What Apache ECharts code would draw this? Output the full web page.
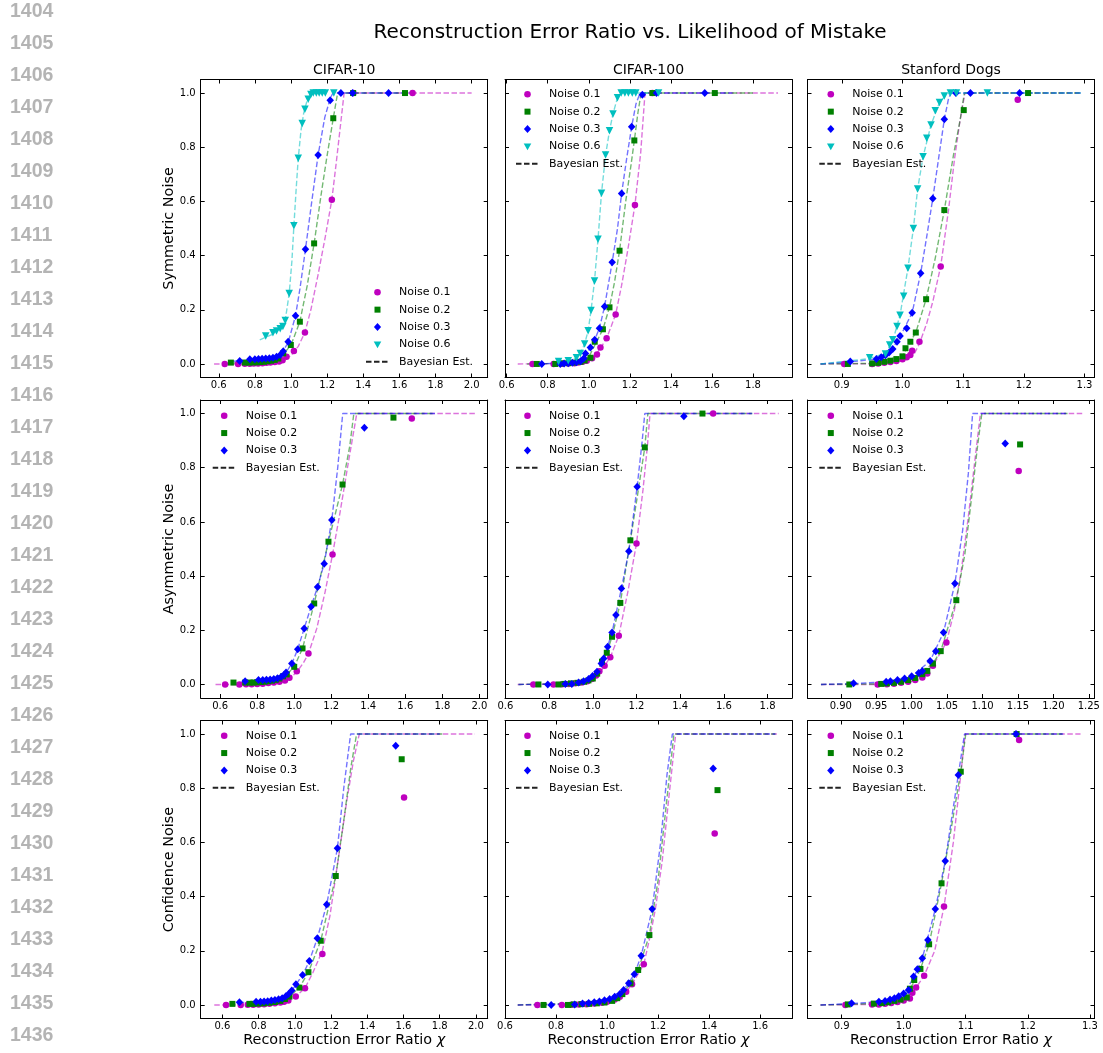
<!DOCTYPE html>
<html><head><meta charset="utf-8">
<script src="https://cdn.jsdelivr.net/npm/echarts@6/dist/echarts.min.js"></script>
<style>html,body{margin:0;padding:0;background:#fff}#c{width:1103px;height:1053px}</style>
</head><body><div id="c"></div><script>
// ---------- categories / labels ----------
const mainTitle = 'Reconstruction Error Ratio vs. Likelihood of Mistake';
const datasets = ['CIFAR-10', 'CIFAR-100', 'Stanford Dogs'];
const noiseTypes = ['Symmetric Noise', 'Asymmetric Noise', 'Confidence Noise'];
const noiseNames = ['Noise 0.1', 'Noise 0.2', 'Noise 0.3', 'Noise 0.6'];
const fitName = 'Bayesian Est.';
const xAxisName = 'Reconstruction Error Ratio ';
const xAxisSymbol = 'χ';
const lineNumbers = ['1404','1405','1406','1407','1408','1409','1410','1411','1412','1413','1414','1415','1416','1417','1418','1419','1420','1421','1422','1423','1424','1425','1426','1427','1428','1429','1430','1431','1432','1433','1434','1435','1436'];

// ---------- tick labels ----------
const yTicks = [0, 0.2, 0.4, 0.6, 0.8, 1.0];
const xTicksWide = [0.6, 0.8, 1.0, 1.2, 1.4, 1.6, 1.8, 2.0];
const xTicksMid = [0.6, 0.8, 1.0, 1.2, 1.4, 1.6, 1.8];
const xTicksShort = [0.6, 0.8, 1.0, 1.2, 1.4, 1.6];
const xTicksDogs = [0.9, 1.0, 1.1, 1.2, 1.3];
const xTicksDogsFine = [0.90, 0.95, 1.00, 1.05, 1.10, 1.15, 1.20, 1.25];

// ---------- Symmetric / CIFAR-10 ----------
const symC10_n1 = [[0.633,0],[0.707,0],[0.744,0.001],[0.772,0.001],[0.794,0.002],[0.818,0.002],[0.842,0.003],[0.864,0.004],[0.886,0.005],[0.910,0.007],[0.934,0.009],[0.953,0.014],[0.975,0.027],[1.016,0.048],[1.077,0.116],[1.226,0.606],[1.345,1.0],[1.673,1.0]];
const symC10_n2 = [[0.667,0.005],[0.744,0.005],[0.77,0.005],[0.79,0.006],[0.81,0.006],[0.83,0.007],[0.85,0.008],[0.87,0.010],[0.89,0.012],[0.91,0.015],[0.93,0.020],[0.957,0.039],[0.999,0.070],[1.049,0.156],[1.128,0.445],[1.234,0.907],[1.344,1.0],[1.631,1.0]];
const symC10_n3 = [[0.716,0.011],[0.772,0.017],[0.80,0.017],[0.82,0.018],[0.84,0.019],[0.86,0.020],[0.88,0.021],[0.90,0.023],[0.92,0.027],[0.94,0.033],[0.957,0.047],[0.984,0.082],[1.025,0.178],[1.080,0.423],[1.150,0.771],[1.217,0.973],[1.276,1.0],[1.341,1.0],[1.540,1.0]];
const symC10_n6 = [[0.860,0.103],[0.900,0.115],[0.920,0.122],[0.940,0.130],[0.955,0.138],[0.968,0.160],[0.990,0.260],[1.016,0.510],[1.040,0.759],[1.062,0.888],[1.077,0.940],[1.095,0.977],[1.110,0.995],[1.123,1.0],[1.140,1.0],[1.156,1.0],[1.173,1.0],[1.190,1.0],[1.237,1.0]];
const symC10_f1 = [[0.574,0],[0.7,0],[0.8,0.001],[0.9,0.005],[0.95,0.012],[1.0,0.03],[1.04,0.065],[1.077,0.116],[1.11,0.2],[1.15,0.33],[1.19,0.47],[1.226,0.606],[1.25,0.74],[1.272,0.87],[1.294,1.0],[2.0,1.0]];
const symC10_f2 = [[0.64,0.003],[0.75,0.005],[0.85,0.008],[0.9,0.013],[0.95,0.03],[1.0,0.07],[1.049,0.156],[1.09,0.29],[1.128,0.445],[1.17,0.64],[1.2,0.77],[1.234,0.907],[1.258,1.0],[1.7,1.0]];
const symC10_f3 = [[0.68,0.01],[0.8,0.016],[0.9,0.023],[0.95,0.042],[0.984,0.078],[1.025,0.178],[1.05,0.28],[1.08,0.423],[1.115,0.6],[1.15,0.771],[1.187,0.91],[1.217,0.98],[1.232,1.0],[1.68,1.0]];
const symC10_f6 = [[0.827,0.089],[0.9,0.11],[0.95,0.135],[0.97,0.17],[0.99,0.26],[1.005,0.38],[1.016,0.51],[1.028,0.64],[1.04,0.759],[1.055,0.86],[1.07,0.925],[1.09,0.975],[1.11,0.998],[1.12,1.0],[1.2,1.0]];

// ---------- Symmetric / CIFAR-100 ----------
const symC100_n1 = [[0.726,0],[0.829,0],[0.87,0.001],[0.90,0.002],[0.93,0.003],[0.95,0.005],[0.97,0.008],[0.99,0.012],[1.016,0.021],[1.04,0.035],[1.057,0.061],[1.087,0.095],[1.131,0.183],[1.225,0.587],[1.31,1.0]];
const symC100_n2 = [[0.747,0],[0.837,0],[0.87,0.002],[0.90,0.003],[0.93,0.005],[0.96,0.008],[0.98,0.013],[1.008,0.023],[1.029,0.082],[1.069,0.128],[1.101,0.209],[1.150,0.418],[1.222,0.825],[1.31,1.0],[1.614,1.0]];
const symC100_n3 = [[0.771,0],[0.861,0],[0.88,0.002],[0.90,0.003],[0.92,0.004],[0.94,0.006],[0.96,0.010],[0.975,0.020],[0.984,0.039],[1.008,0.061],[1.029,0.089],[1.052,0.132],[1.077,0.212],[1.114,0.375],[1.160,0.629],[1.209,0.876],[1.261,0.994],[1.33,1.0],[1.565,1.0]];
const symC100_n6 = [[0.853,0.009],[0.90,0.012],[0.94,0.023],[0.959,0.039],[0.98,0.074],[0.997,0.123],[1.011,0.197],[1.028,0.306],[1.045,0.46],[1.062,0.63],[1.082,0.771],[1.101,0.861],[1.118,0.923],[1.14,0.983],[1.158,1.0],[1.176,1.0],[1.193,1.0],[1.212,1.0],[1.229,1.0],[1.34,1.0]];
const symC100_f1 = [[0.654,0],[0.8,0.001],[0.9,0.004],[0.95,0.008],[1.0,0.016],[1.03,0.03],[1.057,0.058],[1.087,0.095],[1.11,0.14],[1.131,0.183],[1.16,0.29],[1.19,0.42],[1.225,0.587],[1.253,0.78],[1.274,1.0],[1.922,1.0]];
const symC100_f2 = [[0.7,0],[0.85,0.002],[0.95,0.009],[1.0,0.025],[1.03,0.07],[1.069,0.128],[1.101,0.209],[1.125,0.3],[1.15,0.418],[1.18,0.6],[1.205,0.73],[1.222,0.825],[1.24,0.93],[1.255,1.0],[1.8,1.0]];
const symC100_f3 = [[0.75,0],[0.9,0.004],[0.95,0.01],[0.984,0.035],[1.008,0.06],[1.029,0.089],[1.052,0.132],[1.077,0.212],[1.114,0.375],[1.14,0.5],[1.16,0.629],[1.185,0.76],[1.209,0.876],[1.23,0.96],[1.25,1.0],[1.7,1.0]];
const symC100_f6 = [[0.85,0.008],[0.94,0.02],[0.96,0.04],[0.98,0.074],[0.997,0.123],[1.011,0.197],[1.028,0.306],[1.045,0.46],[1.062,0.63],[1.082,0.771],[1.101,0.861],[1.118,0.923],[1.14,0.983],[1.16,1.0],[1.34,1.0]];

// ---------- Symmetric / Stanford Dogs ----------
const symDog_n1 = [[0.904,0],[0.95,0],[0.96,0.002],[0.97,0.004],[0.98,0.007],[0.99,0.011],[1.0,0.017],[1.007,0.025],[1.013,0.033],[1.016,0.049],[1.028,0.082],[1.063,0.36],[1.19,0.975]];
const symDog_n2 = [[0.91,0],[0.95,0.002],[0.96,0.004],[0.97,0.008],[0.98,0.012],[0.99,0.018],[1.0,0.028],[1.005,0.058],[1.013,0.082],[1.022,0.116],[1.039,0.239],[1.069,0.568],[1.101,0.937],[1.207,1.0]];
const symDog_n3 = [[0.914,0.009],[0.957,0.018],[0.965,0.025],[0.972,0.032],[0.978,0.042],[0.984,0.055],[0.991,0.082],[0.996,0.103],[1.007,0.132],[1.016,0.189],[1.03,0.335],[1.05,0.611],[1.069,0.903],[1.088,1.0],[1.112,1.0],[1.193,1.0]];
const symDog_n6 = [[0.946,0.023],[0.972,0.037],[0.979,0.07],[0.984,0.089],[0.991,0.138],[0.996,0.18],[1.002,0.25],[1.009,0.353],[1.018,0.5],[1.025,0.646],[1.034,0.765],[1.04,0.833],[1.047,0.882],[1.054,0.935],[1.061,0.965],[1.069,0.989],[1.079,1.0],[1.089,1.0],[1.14,1.0]];
const symDog_f1 = [[0.865,0],[0.95,0.001],[1.0,0.014],[1.02,0.04],[1.028,0.075],[1.04,0.15],[1.05,0.23],[1.063,0.36],[1.076,0.57],[1.086,0.76],[1.095,0.9],[1.103,1.0],[1.295,1.0]];
const symDog_f2 = [[0.865,0],[0.95,0.002],[1.0,0.03],[1.01,0.07],[1.022,0.116],[1.039,0.239],[1.054,0.39],[1.069,0.568],[1.084,0.77],[1.095,0.9],[1.102,1.0],[1.295,1.0]];
const symDog_f3 = [[0.865,0],[0.914,0.008],[0.957,0.018],[0.98,0.045],[0.996,0.1],[1.016,0.189],[1.03,0.335],[1.04,0.47],[1.05,0.611],[1.06,0.765],[1.069,0.903],[1.076,0.98],[1.08,1.0],[1.295,1.0]];
const symDog_f6 = [[0.865,0],[0.946,0.02],[0.972,0.04],[0.984,0.085],[0.996,0.18],[1.009,0.353],[1.018,0.5],[1.025,0.646],[1.034,0.765],[1.047,0.882],[1.061,0.965],[1.073,0.996],[1.08,1.0],[1.295,1.0]];

// ---------- Asymmetric / CIFAR-10 ----------
const asymC10_n1 = [[0.627,0],[0.704,0],[0.74,0.001],[0.77,0.001],[0.8,0.002],[0.83,0.003],[0.86,0.005],[0.89,0.007],[0.92,0.01],[0.95,0.015],[0.974,0.025],[1.014,0.049],[1.077,0.114],[1.207,0.48],[1.635,0.982]];
const asymC10_n2 = [[0.672,0.007],[0.735,0.007],[0.76,0.007],[0.78,0.007],[0.8,0.008],[0.82,0.009],[0.84,0.01],[0.86,0.012],[0.88,0.014],[0.9,0.017],[0.92,0.022],[0.94,0.03],[0.96,0.037],[1.0,0.065],[1.045,0.133],[1.108,0.299],[1.185,0.527],[1.261,0.738],[1.536,0.985]];
const asymC10_n3 = [[0.735,0.012],[0.807,0.016],[0.83,0.016],[0.85,0.017],[0.87,0.018],[0.89,0.02],[0.91,0.023],[0.93,0.028],[0.945,0.035],[0.956,0.044],[0.987,0.077],[1.019,0.13],[1.054,0.207],[1.091,0.287],[1.126,0.36],[1.162,0.446],[1.203,0.607],[1.379,0.948]];
const asymC10_f1 = [[0.575,0],[0.7,0],[0.8,0.001],[0.9,0.007],[0.97,0.02],[1.014,0.045],[1.05,0.08],[1.077,0.114],[1.122,0.207],[1.167,0.342],[1.207,0.48],[1.248,0.637],[1.293,0.822],[1.338,1.0],[1.977,1.0]];
const asymC10_f2 = [[0.67,0.005],[0.8,0.008],[0.9,0.015],[0.96,0.037],[1.0,0.065],[1.045,0.133],[1.108,0.299],[1.185,0.527],[1.261,0.738],[1.3,0.88],[1.322,1.0],[1.76,1.0]];
const asymC10_f3 = [[0.72,0.012],[0.8,0.015],[0.9,0.02],[0.956,0.044],[0.987,0.077],[1.019,0.13],[1.054,0.207],[1.091,0.287],[1.126,0.36],[1.162,0.446],[1.203,0.607],[1.235,0.8],[1.262,1.0],[1.76,1.0]];

// ---------- Asymmetric / CIFAR-100 ----------
const asymC100_n1 = [[0.728,0],[0.82,0],[0.86,0.001],[0.89,0.002],[0.92,0.004],[0.95,0.007],[0.975,0.012],[0.996,0.02],[1.015,0.033],[1.03,0.049],[1.054,0.069],[1.08,0.1],[1.119,0.18],[1.2,0.52],[1.551,1.0]];
const asymC100_n2 = [[0.751,0],[0.843,0],[0.87,0.002],[0.9,0.004],[0.93,0.006],[0.96,0.01],[0.98,0.015],[1.0,0.022],[1.02,0.04],[1.042,0.084],[1.064,0.117],[1.088,0.176],[1.126,0.301],[1.172,0.532],[1.238,0.875],[1.502,1.0]];
const asymC100_n3 = [[0.794,0],[0.874,0.002],[0.904,0.002],[0.935,0.007],[0.958,0.012],[0.981,0.02],[0.999,0.031],[1.019,0.047],[1.039,0.077],[1.05,0.096],[1.068,0.139],[1.088,0.192],[1.106,0.256],[1.131,0.354],[1.165,0.492],[1.203,0.73],[1.417,0.99]];
const asymC100_f1 = [[0.656,0],[0.85,0.001],[0.95,0.006],[1.0,0.016],[1.03,0.04],[1.054,0.069],[1.08,0.1],[1.119,0.18],[1.16,0.34],[1.2,0.52],[1.23,0.72],[1.25,0.88],[1.262,1.0],[1.851,1.0]];
const asymC100_f2 = [[0.66,0],[0.9,0.004],[0.98,0.015],[1.02,0.045],[1.042,0.084],[1.064,0.117],[1.088,0.176],[1.126,0.301],[1.172,0.532],[1.205,0.7],[1.238,0.875],[1.252,1.0],[1.73,1.0]];
const asymC100_f3 = [[0.66,0],[0.9,0.002],[0.98,0.02],[1.019,0.047],[1.05,0.096],[1.088,0.192],[1.131,0.354],[1.165,0.492],[1.203,0.73],[1.225,0.89],[1.238,1.0],[1.73,1.0]];

// ---------- Asymmetric / Stanford Dogs ----------
const asymDog_n1 = [[0.952,0],[0.965,0.001],[0.975,0.003],[0.985,0.006],[0.995,0.01],[1.005,0.016],[1.015,0.026],[1.022,0.04],[1.03,0.069],[1.049,0.155],[1.151,0.788]];
const asymDog_n2 = [[0.912,0],[0.957,0.002],[0.965,0.004],[0.975,0.006],[0.985,0.01],[0.995,0.016],[1.005,0.024],[1.015,0.038],[1.022,0.05],[1.03,0.077],[1.041,0.123],[1.063,0.311],[1.153,0.886]];
const asymDog_n3 = [[0.918,0.004],[0.964,0.01],[0.97,0.012],[0.98,0.016],[0.99,0.022],[1.0,0.03],[1.01,0.042],[1.015,0.05],[1.026,0.087],[1.034,0.123],[1.045,0.192],[1.061,0.373],[1.132,0.889]];
const asymDog_f1 = [[0.872,0],[0.95,0],[1.0,0.012],[1.03,0.069],[1.049,0.155],[1.06,0.27],[1.07,0.42],[1.08,0.62],[1.088,0.8],[1.097,1.0],[1.241,1.0]];
const asymDog_f2 = [[0.872,0],[0.957,0.002],[1.0,0.02],[1.03,0.077],[1.041,0.123],[1.063,0.311],[1.075,0.48],[1.085,0.7],[1.093,0.88],[1.099,1.0],[1.22,1.0]];
const asymDog_f3 = [[0.872,0],[0.918,0.003],[0.964,0.01],[1.0,0.03],[1.026,0.087],[1.045,0.192],[1.061,0.373],[1.072,0.57],[1.08,0.78],[1.086,1.0],[1.22,1.0]];

// ---------- Confidence / CIFAR-10 ----------
const confC10_n1 = [[0.62,0],[0.701,0],[0.74,0.001],[0.77,0.001],[0.8,0.002],[0.83,0.003],[0.86,0.004],[0.89,0.006],[0.92,0.009],[0.94,0.012],[0.964,0.016],[1.005,0.031],[1.056,0.062],[1.152,0.188],[1.603,0.766]];
const confC10_n2 = [[0.655,0.004],[0.749,0.004],[0.77,0.004],[0.8,0.005],[0.83,0.006],[0.86,0.008],[0.89,0.011],[0.92,0.015],[0.945,0.022],[0.97,0.031],[1.025,0.064],[1.075,0.121],[1.143,0.237],[1.226,0.476],[1.59,0.907]];
const confC10_n3 = [[0.694,0.01],[0.786,0.012],[0.81,0.012],[0.83,0.013],[0.85,0.014],[0.87,0.016],[0.89,0.018],[0.91,0.021],[0.93,0.025],[0.95,0.032],[0.965,0.04],[0.983,0.053],[1.006,0.076],[1.043,0.111],[1.08,0.162],[1.124,0.246],[1.176,0.371],[1.235,0.578],[1.557,0.957]];
const confC10_f1 = [[0.555,0],[0.7,0],[0.8,0.002],[0.9,0.007],[0.964,0.016],[1.005,0.031],[1.056,0.062],[1.1,0.12],[1.152,0.2],[1.194,0.33],[1.24,0.54],[1.286,0.75],[1.323,0.9],[1.356,1.0],[1.995,1.0]];
const confC10_f2 = [[0.64,0.003],[0.8,0.005],[0.9,0.012],[0.97,0.031],[1.025,0.064],[1.075,0.121],[1.143,0.237],[1.226,0.476],[1.27,0.68],[1.31,0.88],[1.341,1.0],[1.82,1.0]];
const confC10_f3 = [[0.69,0.008],[0.8,0.012],[0.9,0.02],[0.983,0.053],[1.043,0.111],[1.08,0.162],[1.124,0.246],[1.176,0.371],[1.235,0.578],[1.27,0.8],[1.308,1.0],[1.8,1.0]];

// ---------- Confidence / CIFAR-100 ----------
const confC100_n1 = [[0.727,0],[0.823,0],[0.86,0.001],[0.89,0.002],[0.92,0.003],[0.95,0.005],[0.98,0.008],[1.0,0.012],[1.03,0.02],[1.05,0.03],[1.075,0.049],[1.098,0.076],[1.144,0.15],[1.422,0.633]];
const confC100_n2 = [[0.751,0],[0.847,0],[0.87,0.002],[0.9,0.003],[0.93,0.004],[0.96,0.006],[0.99,0.009],[1.02,0.015],[1.04,0.025],[1.06,0.04],[1.092,0.08],[1.122,0.129],[1.166,0.258],[1.433,0.793]];
const confC100_n3 = [[0.781,0],[0.873,0.002],[0.904,0.005],[0.928,0.007],[0.95,0.01],[0.97,0.013],[0.99,0.017],[1.01,0.022],[1.03,0.03],[1.05,0.04],[1.065,0.055],[1.085,0.08],[1.107,0.113],[1.134,0.182],[1.177,0.354],[1.416,0.873]];
const confC100_f1 = [[0.65,0],[0.9,0.002],[1.0,0.012],[1.075,0.049],[1.098,0.076],[1.144,0.15],[1.17,0.258],[1.19,0.357],[1.216,0.529],[1.242,0.763],[1.269,1.0],[1.672,1.0]];
const confC100_f2 = [[0.65,0],[1.0,0.01],[1.06,0.04],[1.092,0.08],[1.122,0.129],[1.166,0.258],[1.2,0.46],[1.23,0.72],[1.262,1.0],[1.66,1.0]];
const confC100_f3 = [[0.65,0],[0.9,0.004],[1.0,0.02],[1.065,0.055],[1.107,0.113],[1.134,0.182],[1.177,0.354],[1.21,0.6],[1.235,0.85],[1.256,1.0],[1.66,1.0]];

// ---------- Confidence / Stanford Dogs ----------
const confDog_n1 = [[0.906,0],[0.949,0.002],[0.96,0.002],[0.97,0.004],[0.98,0.007],[0.99,0.011],[1.0,0.016],[1.01,0.024],[1.014,0.045],[1.02,0.064],[1.033,0.108],[1.065,0.363],[1.186,0.978]];
const confDog_n2 = [[0.91,0.002],[0.952,0.005],[0.965,0.007],[0.975,0.01],[0.985,0.015],[0.995,0.02],[1.005,0.028],[1.01,0.06],[1.017,0.092],[1.027,0.133],[1.041,0.224],[1.061,0.449],[1.092,0.861],[1.182,1.0]];
const confDog_n3 = [[0.916,0.006],[0.96,0.012],[0.97,0.015],[0.978,0.02],[0.985,0.025],[0.992,0.032],[1.0,0.042],[1.008,0.055],[1.016,0.105],[1.022,0.132],[1.03,0.172],[1.039,0.24],[1.051,0.354],[1.067,0.531],[1.088,0.849],[1.181,1.0]];
const confDog_f1 = [[0.866,0],[0.95,0.002],[1.0,0.016],[1.02,0.064],[1.033,0.108],[1.05,0.2],[1.065,0.363],[1.08,0.6],[1.092,0.85],[1.099,1.0],[1.285,1.0]];
const confDog_f2 = [[0.866,0],[0.91,0.002],[0.96,0.006],[1.0,0.025],[1.017,0.085],[1.027,0.133],[1.041,0.224],[1.061,0.449],[1.075,0.63],[1.092,0.861],[1.1,1.0],[1.257,1.0]];
const confDog_f3 = [[0.866,0],[0.916,0.005],[0.96,0.012],[1.0,0.04],[1.016,0.1],[1.03,0.172],[1.051,0.354],[1.067,0.531],[1.078,0.7],[1.088,0.849],[1.098,1.0],[1.257,1.0]];

// ---------- styles ----------
const colors = ['#bf00bf', '#008000', '#0000ff', '#00bfbf'];
const symbols = ['circle', 'rect', 'diamond', 'triangle'];
const symSizes = [6.5, 6, [7.5, 8], 7.5];
const symRot = [0, 0, 0, 180];
// legend marker shapes drawn in a fixed 8x8 frame (moveTo corners fix the frame)
const legendIcons = [
  'path://M0,0M8,8M0.7,4a3.3,3.3 0 1,0 6.6,0a3.3,3.3 0 1,0 -6.6,0z',
  'path://M0,0M8,8M1,1L7,1L7,7L1,7z',
  'path://M0,0M8,8M4,0L7.6,4L4,8L0.4,4z',
  'path://M0,0M8,8M0.2,1.2L7.8,1.2L4,7.8z'
];
const FONT = 'DejaVu Sans';

const colLeft = [200.7, 505, 807.5];
const rowTop = [79.5, 400, 720.5];
const PW = 287, PH = 298;

const panels = [
  {r:0,c:0,xr:[0.50,2.089],ticks:xTicksWide,dec:1,pts:[symC10_n1,symC10_n2,symC10_n3,symC10_n6],fits:[symC10_f1,symC10_f2,symC10_f3,symC10_f6],leg:[365,283.8]},
  {r:0,c:1,xr:[0.592,1.99],ticks:xTicksMid,dec:1,pts:[symC100_n1,symC100_n2,symC100_n3,symC100_n6],fits:[symC100_f1,symC100_f2,symC100_f3,symC100_f6],leg:[515,85.8]},
  {r:0,c:2,xr:[0.8435,1.3165],ticks:xTicksDogs,dec:1,pts:[symDog_n1,symDog_n2,symDog_n3,symDog_n6],fits:[symDog_f1,symDog_f2,symDog_f3,symDog_f6],leg:[818.3,85.8]},
  {r:1,c:0,xr:[0.495,2.045],ticks:xTicksWide,dec:1,pts:[asymC10_n1,asymC10_n2,asymC10_n3],fits:[asymC10_f1,asymC10_f2,asymC10_f3],leg:[211.7,407.2]},
  {r:1,c:1,xr:[0.598,1.912],ticks:xTicksMid,dec:1,pts:[asymC100_n1,asymC100_n2,asymC100_n3],fits:[asymC100_f1,asymC100_f2,asymC100_f3],leg:[515,407.2]},
  {r:1,c:2,xr:[0.853,1.258],ticks:xTicksDogsFine,dec:2,pts:[asymDog_n1,asymDog_n2,asymDog_n3],fits:[asymDog_f1,asymDog_f2,asymDog_f3],leg:[818.3,407.2]},
  {r:2,c:0,xr:[0.48,2.065],ticks:xTicksWide,dec:1,pts:[confC10_n1,confC10_n2,confC10_n3],fits:[confC10_f1,confC10_f2,confC10_f3],leg:[211.7,727.2]},
  {r:2,c:1,xr:[0.6,1.725],ticks:xTicksShort,dec:1,pts:[confC100_n1,confC100_n2,confC100_n3],fits:[confC100_f1,confC100_f2,confC100_f3],leg:[515,727.2]},
  {r:2,c:2,xr:[0.845,1.3075],ticks:xTicksDogs,dec:1,pts:[confDog_n1,confDog_n2,confDog_n3],fits:[confDog_f1,confDog_f2,confDog_f3],leg:[818.3,727.2]}
];

const grid = [], xAxis = [], yAxis = [], series = [], legend = [], graphic = [];
const tickStyle = {color:'#000', width:1};

panels.forEach((p, i) => {
  grid.push({left:colLeft[p.c], top:rowTop[p.r], width:PW, height:PH, containLabel:false, outerBoundsMode:'none'});
  const baseX = {gridIndex:i, type:'value', min:p.xr[0], max:p.xr[1], splitLine:{show:false},
    axisLine:{show:true, onZero:false, lineStyle:tickStyle}};
  xAxis.push(Object.assign({}, baseX, {position:'bottom',
    axisTick:{show:true, inside:true, length:4, customValues:p.ticks, lineStyle:tickStyle},
    axisLabel:{show:true, customValues:p.ticks, formatter:v => Number(v).toFixed(p.dec), color:'#000', fontSize:10, fontFamily:FONT, margin:3, hideOverlap:false},
    name: p.r === 2 ? xAxisName + '{i|' + xAxisSymbol + '}' : '', nameLocation:'middle', nameGap:15,
    nameTextStyle:{fontSize:14.4, fontFamily:FONT, color:'#000', rich:{i:{fontStyle:'italic', fontSize:14.4, fontFamily:FONT, color:'#000'}}}
  }));
  xAxis.push(Object.assign({}, baseX, {position:'top',
    axisTick:{show:true, inside:true, length:4, customValues:p.ticks, lineStyle:tickStyle},
    axisLabel:{show:false}}));
  const baseY = {gridIndex:i, type:'value', min:-0.05, max:1.05, splitLine:{show:false},
    axisLine:{show:true, onZero:false, lineStyle:tickStyle}};
  yAxis.push(Object.assign({}, baseY, {position:'left',
    axisTick:{show:true, inside:true, length:4, customValues:yTicks, lineStyle:tickStyle},
    axisLabel:{show:p.c === 0, customValues:yTicks, formatter:v => Number(v).toFixed(1), color:'#000', fontSize:10, fontFamily:FONT, margin:5},
    name: p.c === 0 ? noiseTypes[p.r] : '', nameLocation:'middle', nameGap:24,
    nameTextStyle:{fontSize:14.4, fontFamily:FONT, color:'#000'}
  }));
  yAxis.push(Object.assign({}, baseY, {position:'right',
    axisTick:{show:true, inside:true, length:4, customValues:yTicks, lineStyle:tickStyle},
    axisLabel:{show:false}}));

  const xi = 2 * i, yi = 2 * i;
  p.fits.forEach((d, k) => {
    series.push({type:'line', name:'Fit ' + noiseNames[k], xAxisIndex:xi, yAxisIndex:yi, data:d,
      symbol:'none', showSymbol:false, silent:true, z:2, animation:false,
      lineStyle:{type:[5.5, 2.5], width:1.4, color:colors[k], opacity:0.55}});
  });
  p.pts.forEach((d, k) => {
    series.push({type:'scatter', name:noiseNames[k], xAxisIndex:xi, yAxisIndex:yi, data:d,
      symbol:symbols[k], symbolSize:symSizes[k], symbolRotate:symRot[k], z:3,
      itemStyle:{color:colors[k], opacity:1}});
  });

  const items = noiseNames.slice(0, p.pts.length).map((n, k) => ({name:n, icon:legendIcons[k]}))
    .concat([{name:fitName, itemStyle:{opacity:0}}]);
  legend.push({data:items, orient:'vertical', left:p.leg[0], top:p.leg[1], padding:0,
    itemWidth:23, itemHeight:8, itemGap:0.35, selectedMode:false, symbolKeepAspect:true,
    textStyle:{fontSize:11, fontFamily:FONT, color:'#000', lineHeight:17, padding:[0,0,0,5]}});
});

// dummy series for the legend entry of the fitted curves
series.push({type:'line', name:fitName, xAxisIndex:0, yAxisIndex:0, data:[], symbol:'none',
  itemStyle:{color:'#222'}, lineStyle:{type:[5.5, 2.5], width:1.5, color:'#222'}});

// titles
graphic.push({type:'text', x:630, y:33, silent:true,
  style:{text:mainTitle, fill:'#000', font:'20px "DejaVu Sans"', align:'center', verticalAlign:'middle', textAlign:'center', textVerticalAlign:'middle'}});
datasets.forEach((t, c) => {
  graphic.push({type:'text', x:colLeft[c] + PW / 2, y:70, silent:true,
    style:{text:t, fill:'#000', font:'14px "DejaVu Sans"', align:'center', verticalAlign:'middle', textAlign:'center', textVerticalAlign:'middle'}});
});
// line number gutter
lineNumbers.forEach((t, k) => {
  graphic.push({type:'text', x:10, y:11.7 + 32.0 * k, silent:true,
    style:{text:t, fill:'#b4b4b4', font:'bold 19.5px "Liberation Sans"', align:'left', verticalAlign:'middle', textAlign:'left', textVerticalAlign:'middle'}});
});

const chart = echarts.init(document.getElementById('c'));
chart.setOption({animation:false, backgroundColor:'#fff', grid, xAxis, yAxis, series, legend, graphic});
</script></body></html>
